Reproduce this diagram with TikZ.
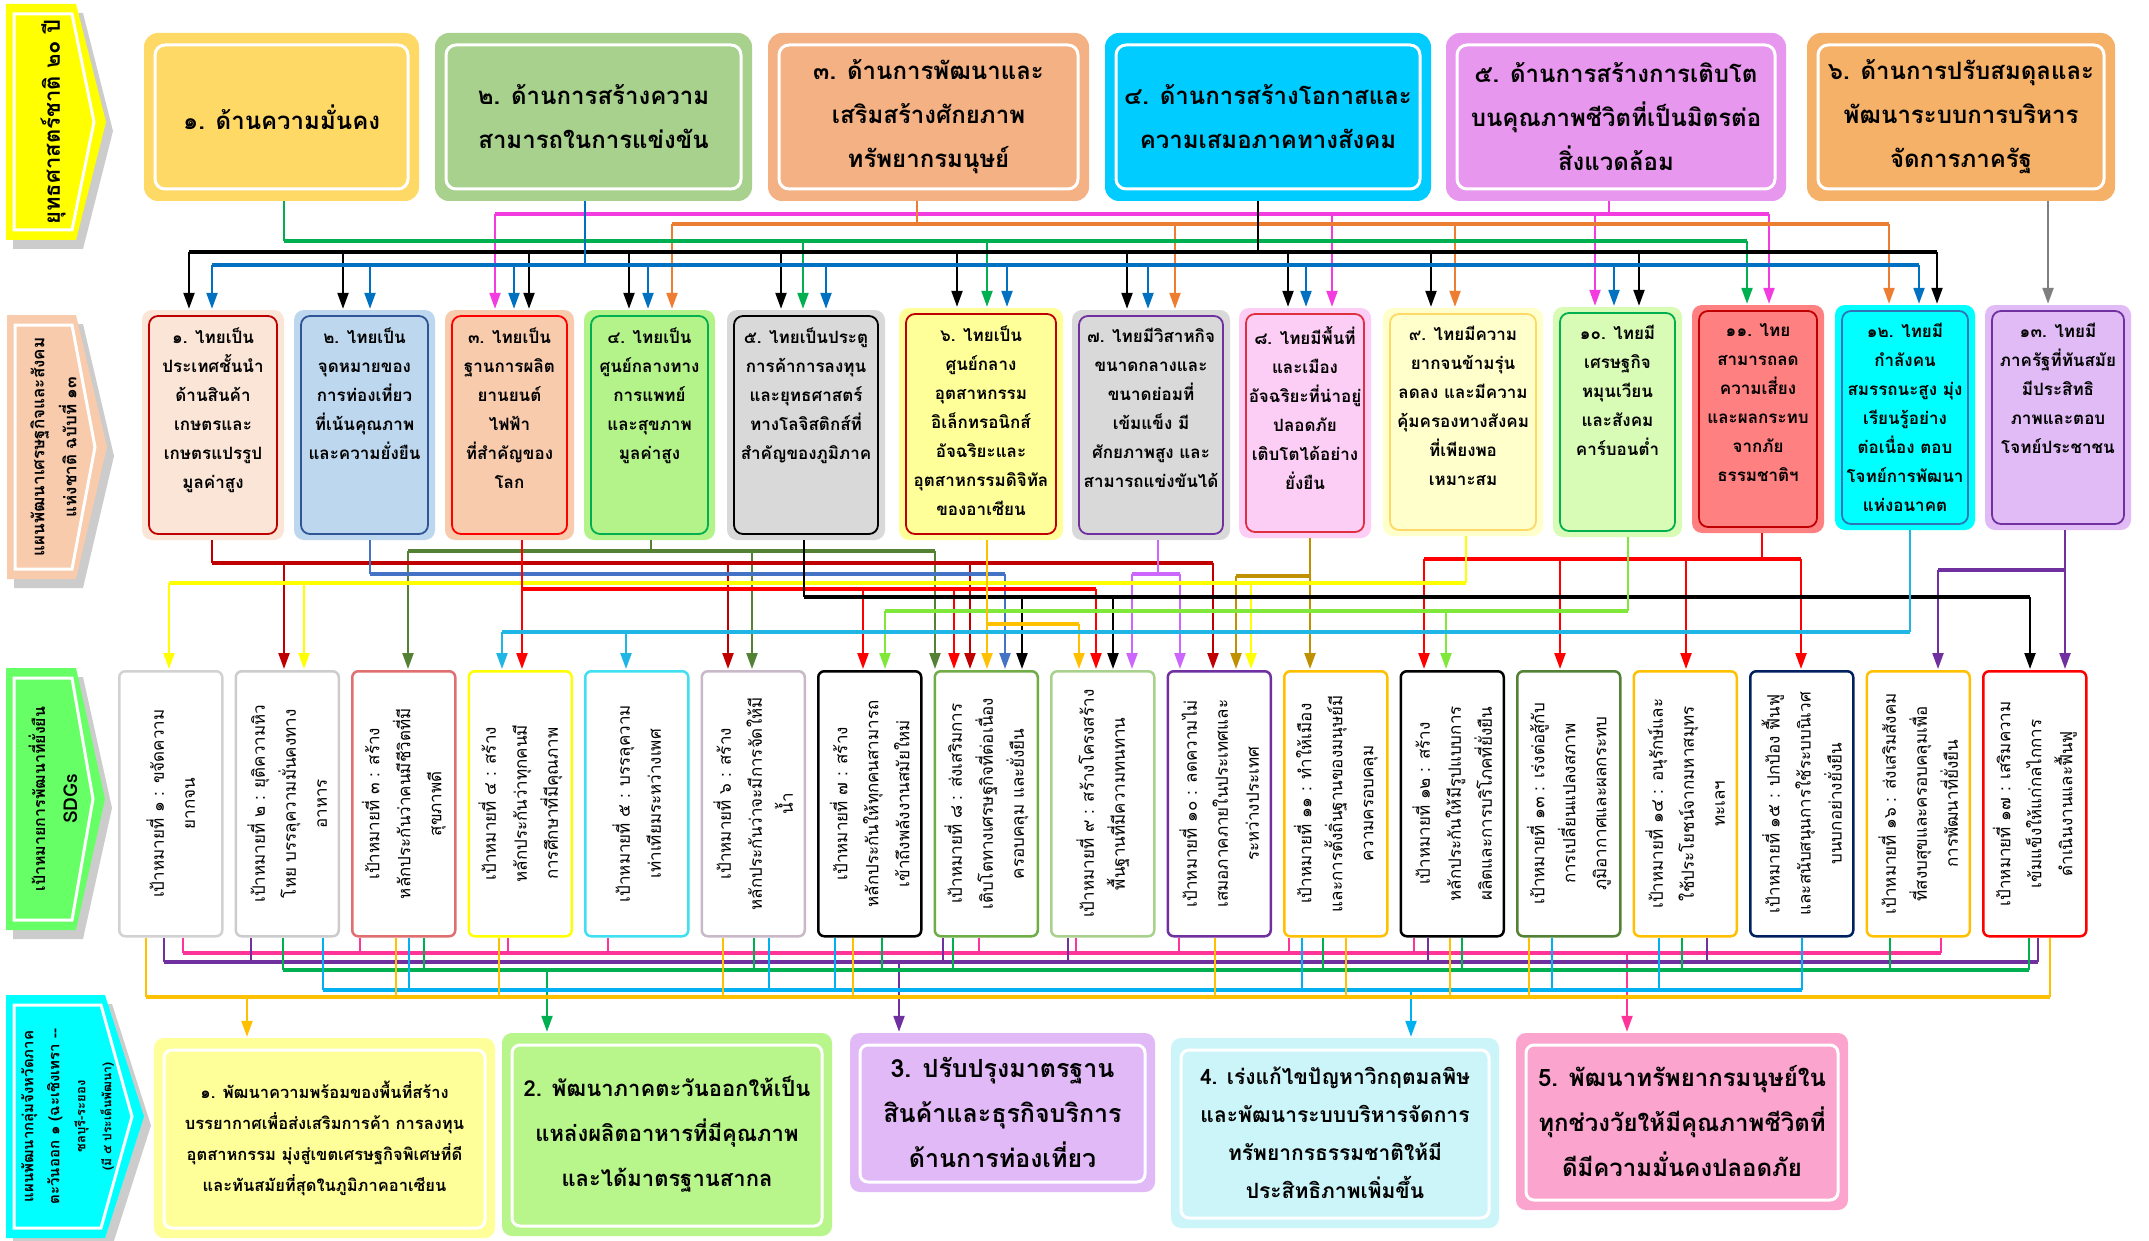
\documentclass[tikz,border=0pt]{standalone}
\usepackage{fontspec}
\newfontfamily\thai[Script=Thai]{Loma}
\usetikzlibrary{arrows.meta,fit}
\definecolor{cTa}{HTML}{FFD966}\definecolor{cTb}{HTML}{A9D18E}\definecolor{cTc}{HTML}{F4B183}
\definecolor{cTd}{HTML}{00CCFF}\definecolor{cTe}{HTML}{E897EF}\definecolor{cTf}{HTML}{F5B167}
\definecolor{lGreen}{HTML}{00B050}\definecolor{lBlue}{HTML}{0070C0}\definecolor{lOrange}{HTML}{ED7D31}
\definecolor{lMag}{HTML}{F23CE0}\definecolor{lGray}{HTML}{7F7F7F}
\definecolor{dkred}{HTML}{C00000}\definecolor{mblue}{HTML}{4472C4}\definecolor{lred}{HTML}{FF0000}
\definecolor{olive}{HTML}{548235}\definecolor{gold}{HTML}{FFC000}\definecolor{violet}{HTML}{CC66FF}
\definecolor{dgold}{HTML}{BF9000}\definecolor{lyel}{HTML}{FFFF00}\definecolor{lgrn}{HTML}{80E83A}
\definecolor{lcyan}{HTML}{1FB5E5}\definecolor{purp}{HTML}{7030A0}\definecolor{bcyan}{HTML}{00B0F0}
\definecolor{bpink}{HTML}{FF3399}\definecolor{cy}{HTML}{00FFFF}
\definecolor{fMa}{HTML}{FBE5D6}\definecolor{fMb}{HTML}{BDD7EE}\definecolor{fMc}{HTML}{F8CBAD}
\definecolor{fMd}{HTML}{B4F38A}\definecolor{fMe}{HTML}{D9D9D9}\definecolor{fMf}{HTML}{FFFF99}
\definecolor{fMh}{HTML}{FDCEF5}\definecolor{fMi}{HTML}{FFFFCC}\definecolor{fMj}{HTML}{D8FBB5}
\definecolor{fMk}{HTML}{FF8080}\definecolor{fMm}{HTML}{E0BBF5}
\definecolor{bMb}{HTML}{2F5597}\definecolor{bMh}{HTML}{E0303F}\definecolor{bMl}{HTML}{2F75B5}
\definecolor{sA}{HTML}{E07070}\definecolor{sB}{HTML}{40E0F0}\definecolor{sC}{HTML}{C8B8C8}
\definecolor{sD}{HTML}{70AD47}\definecolor{sE}{HTML}{002060}
\definecolor{fBa}{HTML}{FFFF99}\definecolor{fBb}{HTML}{B8F58A}\definecolor{fBc}{HTML}{E1B9F6}
\definecolor{fBd}{HTML}{CCF5F9}\definecolor{fBe}{HTML}{FAA4CE}
\definecolor{fLb}{HTML}{F8CBAD}\definecolor{fLc}{HTML}{66FF66}
\tikzset{
  cn/.style={line width=2.2pt},
  bs/.style={line width=3.6pt},
  ar/.style={line width=2.2pt,-{Triangle[length=16pt,width=11pt]},shorten >=1pt},
  toptxt/.style={font={\thai\bfseries\fontsize{24pt}{44pt}\selectfont},align=center,text=black},
  midtxt/.style={font={\thai\bfseries\fontsize{17pt}{29pt}\selectfont},align=center,text=black,inner sep=0pt},
  sdgtxt/.style={font={\thai\fontsize{17pt}{31pt}\selectfont},align=center,text=black},
}
\newcommand\topbox[5]{%
  \fill[#4,rounded corners=14pt] (#2,33) rectangle (#3,201);
  \draw[white,line width=3pt,rounded corners=10pt] ({#2+11},45) rectangle ({#3-11},189);
  \node[fit={(#2,33) (#3,201)},inner sep=0pt] (#1) {};
  \node[toptxt] at (#1.center) {#5};
}
\newcommand\midbox[8]{%
  \fill[#6,rounded corners=10pt] (#2,#4) rectangle (#3,#5);
  \draw[#7,fill=#6,line width=1.8pt,rounded corners=9pt] ({#2+7},{#4+6}) rectangle ({#3-7},{#5-6});
  \node[fit={(#2,#4) (#3,#5)},inner sep=0pt] (#1) {};
  \node[midtxt,anchor=north] at ({(#2+#3)/2},{#4+18}) {#8};
}
\newcommand\sdg[4]{%
  \node[draw=#3,line width=2.5pt,rounded corners=6pt,fill=white,minimum width=103pt,minimum height=265pt,inner sep=0pt,anchor=north west] (#1) at (#2,670) {};
  \node[sdgtxt,rotate=90] at (#1.center) {#4};
}
\newcommand\botbox[8]{%
  \fill[#6,rounded corners=10pt] (#2,#4) rectangle (#3,#5);
  \draw[white,line width=3pt,rounded corners=8pt] ({#2+10},{#4+12}) rectangle ({#3-10},{#5-10});
  \node[fit={(#2,#4) (#3,#5)},inner sep=0pt] (#1) {};
  \node[font={\thai\bfseries#7\selectfont},align=center,text=black] at (#1.center) {#8};
}
\newcommand\lab[9]{%
  \fill[gray!40] ({#2+7},{#5+9}) -- ({#3+7},{#5+9}) -- ({#4+7},{(#5+#6)/2+9}) -- ({#3+7},{#6+9}) -- ({#2+7},{#6+9}) -- cycle;
  \fill[#7] (#2,#5) -- (#3,#5) -- (#4,{(#5+#6)/2}) -- (#3,#6) -- (#2,#6) -- cycle;
  \draw[white,line width=3pt] ({#2+8},{#5+10}) -- ({#3-4},{#5+10}) -- ({#4-12},{(#5+#6)/2}) -- ({#3-4},{#6-10}) -- ({#2+8},{#6-10}) -- cycle;
  \node[fit={(#2,#5) (#4,#6)},inner sep=0pt] (#1) {};
  \node[font={\thai\bfseries\fontsize#8\selectfont},align=center,text=black,rotate=90] at ({(#2+#3)/2+12},{(#5+#6)/2}) {#9};
}
% net from one source to many targets
\newcommand\net[7]{%
  \draw[cn,#1] (#2.south -| #3,0) -- (#3,#4);
  \draw[bs,#1] (#5,#4) -- (#6,#4);
  \foreach \xx/\tt in {#7} {\draw[ar,#1] (\xx,#4) -- (\tt.north -| \xx,0);}
}
% web from many sources to one target
\newcommand\web[7]{%
  \foreach \xx/\ss in {#5} {\draw[cn,#1] (\ss.south -| \xx,0) -- (\xx,#2);}
  \draw[bs,#1] (#3,#2) -- (#4,#2);
  \draw[ar,#1] (#6,#2) -- (#7.north -| #6,0);
}
\begin{document}
\begin{tikzpicture}[x=1pt,y=-1pt]
\useasboundingbox (0,0) rectangle (2149,1241);
\fill[white] (0,0) rectangle (2149,1241);
% labels
\lab{L1}{6}{76}{106}{4}{240}{lyel}{{22pt}{28pt}}{ยุทธศาสตร์ชาติ ๒๐ ปี}
\lab{L2}{7}{76}{107}{315}{579}{fLb}{{17pt}{32pt}}{แผนพัฒนาเศรษฐกิจและสังคม\\แห่งชาติ ฉบับที่ ๑๓}
\lab{L3}{6}{76}{105}{668}{930}{fLc}{{16pt}{32pt}}{เป้าหมายการพัฒนาที่ยั่งยืน\\{\fontsize{19pt}{32pt}\selectfont SDGs}}
\lab{L4}{6}{105}{144}{995}{1238}{cy}{{15pt}{26pt}}{แผนพัฒนากลุ่มจังหวัดภาค\\ตะวันออก ๑ (ฉะเชิงเทรา --\\{\fontsize{13pt}{22pt}\selectfont ชลบุรี-ระยอง}\\{\fontsize{12pt}{21pt}\selectfont (มี ๕ ประเด็นพัฒนา)}}
% top boxes
\topbox{T1}{144}{419}{cTa}{๑. ด้านความมั่นคง}
\topbox{T2}{435}{752}{cTb}{๒. ด้านการสร้างความ\\สามารถในการแข่งขัน}
\topbox{T3}{768}{1089}{cTc}{๓. ด้านการพัฒนาและ\\เสริมสร้างศักยภาพ\\ทรัพยากรมนุษย์}
\topbox{T4}{1105}{1431}{cTd}{๔. ด้านการสร้างโอกาสและ\\ความเสมอภาคทางสังคม}
\topbox{T5}{1446}{1786}{cTe}{๕. ด้านการสร้างการเติบโต\\บนคุณภาพชีวิตที่เป็นมิตรต่อ\\สิ่งแวดล้อม}
\topbox{T6}{1807}{2115}{cTf}{๖. ด้านการปรับสมดุลและ\\พัฒนาระบบการบริหาร\\จัดการภาครัฐ}
% middle boxes
\midbox{M1}{142}{284}{310}{540}{fMa}{dkred}{๑. ไทยเป็น\\ประเทศชั้นนำ\\ด้านสินค้า\\เกษตรและ\\เกษตรแปรรูป\\มูลค่าสูง}
\midbox{M2}{294}{435}{310}{540}{fMb}{bMb}{๒. ไทยเป็น\\จุดหมายของ\\การท่องเที่ยว\\ที่เน้นคุณภาพ\\และความยั่งยืน}
\midbox{M3}{445}{574}{310}{540}{fMc}{lred}{๓. ไทยเป็น\\ฐานการผลิต\\ยานยนต์\\ไฟฟ้า\\ที่สำคัญของ\\โลก}
\midbox{M4}{584}{715}{310}{540}{fMd}{lGreen}{๔. ไทยเป็น\\ศูนย์กลางทาง\\การแพทย์\\และสุขภาพ\\มูลค่าสูง}
\midbox{M5}{727}{885}{310}{540}{fMe}{black}{๕. ไทยเป็นประตู\\การค้าการลงทุน\\และยุทธศาสตร์\\ทางโลจิสติกส์ที่\\สำคัญของภูมิภาค}
\midbox{M6}{899}{1063}{308}{540}{fMf}{dkred}{๖. ไทยเป็น\\ศูนย์กลาง\\อุตสาหกรรม\\อิเล็กทรอนิกส์\\อัจฉริยะและ\\อุตสาหกรรมดิจิทัล\\ของอาเซียน}
\midbox{M7}{1072}{1230}{310}{540}{fMe}{purp}{๗. ไทยมีวิสาหกิจ\\ขนาดกลางและ\\ขนาดย่อมที่\\เข้มแข็ง มี\\ศักยภาพสูง และ\\สามารถแข่งขันได้}
\midbox{M8}{1239}{1371}{308}{538}{fMh}{bMh}{๘. ไทยมีพื้นที่\\และเมือง\\อัจฉริยะที่น่าอยู่\\ปลอดภัย\\เติบโตได้อย่าง\\ยั่งยืน}
\midbox{M9}{1383}{1543}{308}{536}{fMi}{cTa}{๙. ไทยมีความ\\ยากจนข้ามรุ่น\\ลดลง และมีความ\\คุ้มครองทางสังคม\\ที่เพียงพอ\\เหมาะสม}
\midbox{M10}{1553}{1682}{307}{537}{fMj}{lGreen}{๑๐. ไทยมี\\เศรษฐกิจ\\หมุนเวียน\\และสังคม\\คาร์บอนต่ำ}
\midbox{M11}{1692}{1824}{305}{533}{fMk}{dkred}{๑๑. ไทย\\สามารถลด\\ความเสี่ยง\\และผลกระทบ\\จากภัย\\ธรรมชาติฯ}
\midbox{M12}{1835}{1975}{305}{530}{cy}{bMl}{๑๒. ไทยมี\\กำลังคน\\สมรรถนะสูง มุ่ง\\เรียนรู้อย่าง\\ต่อเนื่อง ตอบ\\โจทย์การพัฒนา\\แห่งอนาคต}
\midbox{M13}{1985}{2131}{305}{530}{fMm}{purp}{๑๓. ไทยมี\\ภาครัฐที่ทันสมัย\\มีประสิทธิ\\ภาพและตอบ\\โจทย์ประชาชน}
% SDG boxes
\sdg{S1}{118}{gray!35}{เป้าหมายที่ ๑ : ขจัดความ\\ยากจน}
\sdg{S2}{234.5}{gray!40}{เป้าหมายที่ ๒ : ยุติความหิว\\โหย บรรลุความมั่นคงทาง\\อาหาร}
\sdg{S3}{351}{sA}{เป้าหมายที่ ๓ : สร้าง\\หลักประกันว่าคนมีชีวิตที่มี\\สุขภาพดี}
\sdg{S4}{467.5}{lyel}{เป้าหมายที่ ๔ : สร้าง\\หลักประกันว่าทุกคนมี\\การศึกษาที่มีคุณภาพ}
\sdg{S5}{584}{sB}{เป้าหมายที่ ๕ : บรรลุความ\\เท่าเทียมระหว่างเพศ}
\sdg{S6}{700.5}{sC}{เป้าหมายที่ ๖ : สร้าง\\หลักประกันว่าจะมีการจัดให้มี\\น้ำ}
\sdg{S7}{817}{black}{เป้าหมายที่ ๗ : สร้าง\\หลักประกันให้ทุกคนสามารถ\\เข้าถึงพลังงานสมัยใหม่}
\sdg{S8}{933.5}{sD}{เป้าหมายที่ ๘ : ส่งเสริมการ\\เติบโตทางเศรษฐกิจที่ต่อเนื่อง\\ครอบคลุม และยั่งยืน}
\sdg{S9}{1050}{cTb}{เป้าหมายที่ ๙ : สร้างโครงสร้าง\\พื้นฐานที่มีความทนทาน}
\sdg{S10}{1166.5}{purp}{เป้าหมายที่ ๑๐ : ลดความไม่\\เสมอภาคภายในประเทศและ\\ระหว่างประเทศ}
\sdg{S11}{1283}{gold}{เป้าหมายที่ ๑๑ : ทำให้เมือง\\และการตั้งถิ่นฐานของมนุษย์มี\\ความครอบคลุม}
\sdg{S12}{1399.5}{black}{เป้าหมายที่ ๑๒ : สร้าง\\หลักประกันให้มีรูปแบบการ\\ผลิตและการบริโภคที่ยั่งยืน}
\sdg{S13}{1516}{olive}{เป้าหมายที่ ๑๓ : เร่งต่อสู้กับ\\การเปลี่ยนแปลงสภาพ\\ภูมิอากาศและผลกระทบ}
\sdg{S14}{1632.5}{gold}{เป้าหมายที่ ๑๔ : อนุรักษ์และ\\ใช้ประโยชน์จากมหาสมุทร\\ทะเลฯ}
\sdg{S15}{1749}{sE}{เป้าหมายที่ ๑๕ : ปกป้อง ฟื้นฟู\\และสนับสนุนการใช้ระบบนิเวศ\\บนบกอย่างยั่งยืน}
\sdg{S16}{1865.5}{gold}{เป้าหมายที่ ๑๖ : ส่งเสริมสังคม\\ที่สงบสุขและครอบคลุมเพื่อ\\การพัฒนาที่ยั่งยืน}
\sdg{S17}{1982}{lred}{เป้าหมายที่ ๑๗ : เสริมความ\\เข้มแข็งให้แก่กลไกการ\\ดำเนินงานและฟื้นฟู}
% bottom boxes
\botbox{B1}{154}{495}{1038}{1238}{fBa}{\fontsize{16.5pt}{31pt}}{๑. พัฒนาความพร้อมของพื้นที่สร้าง\\บรรยากาศเพื่อส่งเสริมการค้า การลงทุน\\อุตสาหกรรม มุ่งสู่เขตเศรษฐกิจพิเศษที่ดี\\และทันสมัยที่สุดในภูมิภาคอาเซียน}
\botbox{B2}{502}{832}{1033}{1236}{fBb}{\fontsize{22pt}{45pt}}{2. พัฒนาภาคตะวันออกให้เป็น\\แหล่งผลิตอาหารที่มีคุณภาพ\\และได้มาตรฐานสากล}
\botbox{B3}{850}{1155}{1033}{1192}{fBc}{\fontsize{25pt}{45pt}}{3. ปรับปรุงมาตรฐาน\\สินค้าและธุรกิจบริการ\\ด้านการท่องเที่ยว}
\botbox{B4}{1171}{1499}{1038}{1228}{fBd}{\fontsize{21pt}{38pt}}{4. เร่งแก้ไขปัญหาวิกฤตมลพิษ\\และพัฒนาระบบบริหารจัดการ\\ทรัพยากรธรรมชาติให้มี\\ประสิทธิภาพเพิ่มขึ้น}
\botbox{B5}{1516}{1848}{1033}{1210}{fBe}{\fontsize{24pt}{45pt}}{5. พัฒนาทรัพยากรมนุษย์ใน\\ทุกช่วงวัยให้มีคุณภาพชีวิตที่\\ดีมีความมั่นคงปลอดภัย}
% top -> middle
\net{lMag}{T5}{1609}{214}{495}{1769}{495/M3,1332/M8,1595/M10,1769/M11}
\net{lOrange}{T3}{917}{224}{672}{1889}{672/M4,1175/M7,1455/M9,1889/M12}
\net{lGreen}{T1}{284}{241}{284}{1747}{803/M5,987/M6,1747/M11}
\net{black}{T4}{1258}{252}{189}{1937}{189/M1,343/M2,529/M3,629/M4,781/M5,957/M6,1127/M7,1288/M8,1431/M9,1639/M10,1937/M12}
\net{lBlue}{T2}{585}{265}{212}{1919}{212/M1,370/M2,514/M3,648/M4,826/M5,1007/M6,1148/M7,1306/M8,1614/M10,1919/M12}
\draw[ar,lGray] (T6.south -| 2048,0) -- (M13.north -| 2048,0);
% middle -> SDG
\net{olive}{M4}{651}{551}{408}{935}{408/S3,752/S6,935/S8}
\net{lred}{M11}{1762}{559}{1424}{1801}{1424/S12,1560/S13,1686/S14,1801/S15}
\net{dkred}{M1}{212}{563}{212}{1213}{284/S2,728/S6,970/S8,1213/S10}
\net{purp}{M13}{2065}{570}{1938}{2065}{1938/S16,2065/S17}
\net{mblue}{M2}{370}{574}{370}{1005}{1005/S8}
\net{violet}{M7}{1158}{574}{1132}{1180}{1132/S9,1180/S10}
\net{dgold}{M8}{1310}{576}{1236}{1310}{1236/S10,1310/S11}
\net{lyel}{M9}{1466}{583}{169}{1466}{169/S1,304/S2,1251/S10}
\net{lred}{M3}{522}{589}{522}{1096}{522/S4,863/S7,954/S8,1096/S9}
\net{black}{M5}{804}{597}{804}{2030}{1022/S8,1113/S9,2030/S17}
\net{lgrn}{M10}{1628}{611}{885}{1628}{885/S7,1446/S12}
\net{gold}{M6}{987}{624}{987}{1079}{987/S8,1079/S9}
\net{lcyan}{M12}{1910}{632}{502}{1910}{502/S4,626/S5}
% SDG -> bottom
\web{bpink}{953}{183}{1941}{183/S1,360/S3,508/S4,608/S5,979/S8,1076/S9,1179/S10,1289/S11,1414/S12,1941/S16}{1627}{B5}
\web{purp}{962}{164}{2038}{164/S1,251/S2,943/S8,1068/S9,1428/S12,1707/S14,2038/S17}{899}{B3}
\web{lGreen}{970}{283}{2029}{283/S2,424/S3,754/S6,882/S7,953/S8,1323/S11,1462/S12,1682/S14,1890/S16,2029/S17}{547}{B2}
\web{bcyan}{990}{323}{1802}{323/S2,409/S3,769/S6,835/S7,1302/S11,1552/S13,1659/S14,1802/S15}{1411}{B4}
\web{gold}{997}{146}{2050}{146/S1,396/S3,499/S4,723/S6,853/S7,1215/S10,1346/S11,1450/S12,1529/S13,2050/S17}{247}{B1}
\end{tikzpicture}
\end{document}
